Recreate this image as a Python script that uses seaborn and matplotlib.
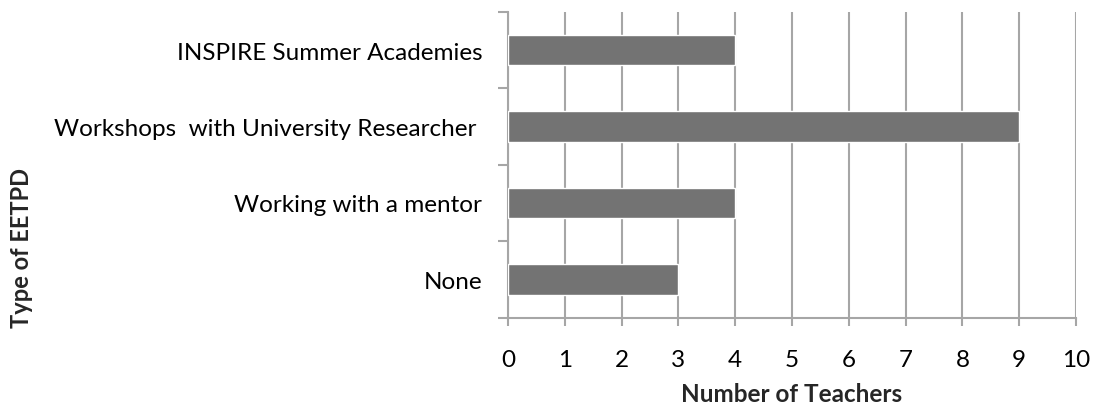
import matplotlib
matplotlib.use("Agg")
import matplotlib.pyplot as plt
import seaborn as sns
import pandas as pd
import numpy as np

categories = ["INSPIRE Summer Academies", "Workshops  with University Researcher ",
              "Working with a mentor", "None"]
teachers = [4, 9, 4, 3]
x_ticks = [0, 1, 2, 3, 4, 5, 6, 7, 8, 9, 10]

sns.set_theme(style="white")
plt.rcParams['font.family'] = ['Lato', 'DejaVu Sans']

df = pd.DataFrame({"Type": categories, "Teachers": teachers})

fig = plt.figure(figsize=(10.94, 4.06), dpi=100)
ax = fig.add_axes([508/1094, 1 - 318.5/406, (1076-508)/1094, (318.5-13)/406])

grid_c = "#a6a6a6"
fs = 17.5
sns.barplot(data=df, x="Teachers", y="Type", orient="h", color="#737373",
            width=0.4, saturation=1, ax=ax, zorder=3)

ax.set_xlim(0, 10)
ax.set_ylim(3.5, -0.5)
ax.set_xticks(x_ticks)
ax.set_xticklabels([str(t) for t in x_ticks], fontsize=fs, color="#000000")
ax.set_yticks(range(len(categories)))
ax.set_yticklabels(categories, fontsize=fs, color="#000000")
ax.set_yticks(np.arange(-0.5, len(categories), 1.0), minor=True)
ax.tick_params(axis="y", which="major", length=0, pad=18.5)
ax.tick_params(axis="y", which="minor", length=7, width=1.5, color=grid_c, left=True)
ax.tick_params(axis="x", which="major", length=6, width=1.5, color=grid_c, bottom=True, pad=17)

ax.xaxis.grid(True, color=grid_c, linewidth=1.5, zorder=0)
ax.yaxis.grid(False)
ax.set_axisbelow(True)
for s in ["top", "right"]:
    ax.spines[s].set_visible(False)
for s in ["left", "bottom"]:
    ax.spines[s].set_color(grid_c)
    ax.spines[s].set_linewidth(1.5)

ax.set_xlabel("Number of Teachers", fontsize=fs, fontweight="bold", labelpad=8)
ax.set_ylabel("")
fig.text(22/1094, 1 - 248/406, "Type of EETPD", rotation=90, fontsize=17,
         fontweight="bold", ha="center", va="center")

fig.savefig("out.png", dpi=100)
